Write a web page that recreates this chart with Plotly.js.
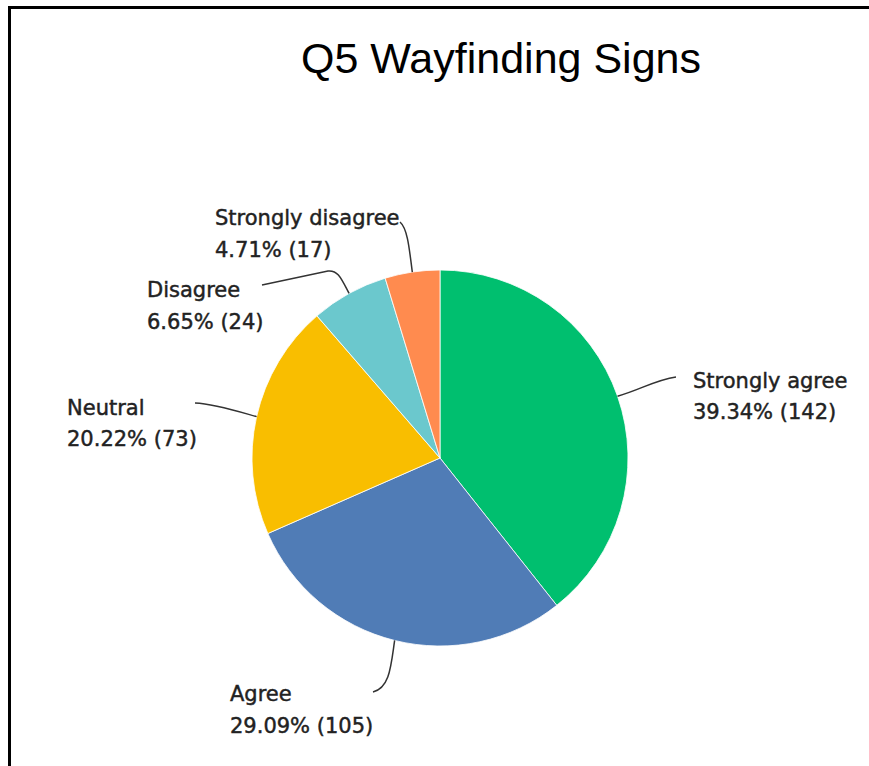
<!DOCTYPE html>
<html>
<head>
<meta charset="utf-8">
<script src="https://cdn.plot.ly/plotly-3.0.1.min.js"></script>
<style>
  html, body { margin: 0; padding: 0; background: #fff; overflow: hidden; }
  #chart { width: 869px; height: 766px; }
  #frame { position: absolute; left: 8px; top: 6px; width: 900px; height: 800px;
           border-top: 3px solid #000; border-left: 3px solid #000; pointer-events: none; }
  #chart .annotation-text { stroke: #222222; stroke-width: 0.45px; }
</style>
</head>
<body>
<div id="chart"></div>
<div id="frame"></div>
<script>
// ---- data ----
const categories = ['Strongly agree', 'Agree', 'Neutral', 'Disagree', 'Strongly disagree'];
const counts = [142, 105, 73, 24, 17];
const percentLabels = ['39.34%', '29.09%', '20.22%', '6.65%', '4.71%'];
const sliceColors = ['#00BF6F', '#507CB6', '#F9BE00', '#6BC8CD', '#FF8B4F'];
const chartTitle = 'Q5 Wayfinding Signs';

// ---- layout helpers (pixel geometry) ----
const W = 869, H = 766;
const cx = 440, cy = 458, R = 188;
const px = (x) => x / W;
const py = (y) => 1 - y / H;

// label placement (left x, name y, percent y) and leader curve controls, pixels
const labelPos = [
  {x: 691, y1: 381, y2: 412, c1: [640, 390], c2: [655, 380], end: [676, 377], extra: []},
  {x: 228, y1: 694, y2: 726, c1: [391, 665], c2: [390, 688], end: [373, 692], extra: []},
  {x: 65,  y1: 408, y2: 439, c1: [240, 412], c2: [215, 404], end: [195, 403], extra: []},
  {x: 145, y1: 290, y2: 322, c1: [341, 278], c2: [338, 270], end: [328, 271], extra: [[262, 285]]},
  {x: 213, y1: 218, y2: 250, c1: [409, 245], c2: [407, 228], end: [400, 222], extra: []}
];

const total = counts.reduce((a, b) => a + b, 0);
const labelFont = {family: 'DejaVu Sans', size: 21, color: '#222222'};

const annotations = [];
const shapes = [];
let cum = 0;
counts.forEach((v, i) => {
  const theta = 2 * Math.PI * (cum + v / 2) / total;
  cum += v;
  const sx = cx + R * Math.sin(theta);
  const sy = cy - R * Math.cos(theta);
  const L = labelPos[i];
  let path = `M ${px(sx)},${py(sy)} C ${px(L.c1[0])},${py(L.c1[1])} ${px(L.c2[0])},${py(L.c2[1])} ${px(L.end[0])},${py(L.end[1])}`;
  L.extra.forEach(p => { path += ` L ${px(p[0])},${py(p[1])}`; });
  shapes.push({type: 'path', xref: 'paper', yref: 'paper', path: path,
               line: {color: '#333333', width: 1.5}});
  annotations.push({xref: 'paper', yref: 'paper', x: px(L.x), y: py(L.y1),
                    xanchor: 'left', yanchor: 'middle', showarrow: false,
                    text: categories[i], font: labelFont});
  annotations.push({xref: 'paper', yref: 'paper', x: px(L.x), y: py(L.y2),
                    xanchor: 'left', yanchor: 'middle', showarrow: false,
                    text: percentLabels[i] + ' (' + v + ')', font: labelFont});
});

const trace = {
  type: 'pie',
  labels: categories,
  values: counts,
  sort: false,
  direction: 'clockwise',
  rotation: 0,
  textinfo: 'none',
  textposition: 'none',
  hoverinfo: 'label+value+percent',
  marker: {colors: sliceColors, line: {color: '#ffffff', width: 0.8}},
  domain: {x: [px(cx - R), px(cx + R)], y: [py(cy + R), py(cy - R)]},
  showlegend: false
};

const layout = {
  width: W, height: H,
  margin: {l: 0, r: 0, t: 0, b: 0},
  paper_bgcolor: '#ffffff',
  title: {text: chartTitle, font: {family: 'Liberation Sans', size: 43, color: '#000000'},
          x: px(501), xanchor: 'center', y: py(58), yanchor: 'middle'},
  annotations: annotations,
  shapes: shapes
};

Plotly.newPlot('chart', [trace], layout, {displayModeBar: false, staticPlot: true});
</script>
</body>
</html>
